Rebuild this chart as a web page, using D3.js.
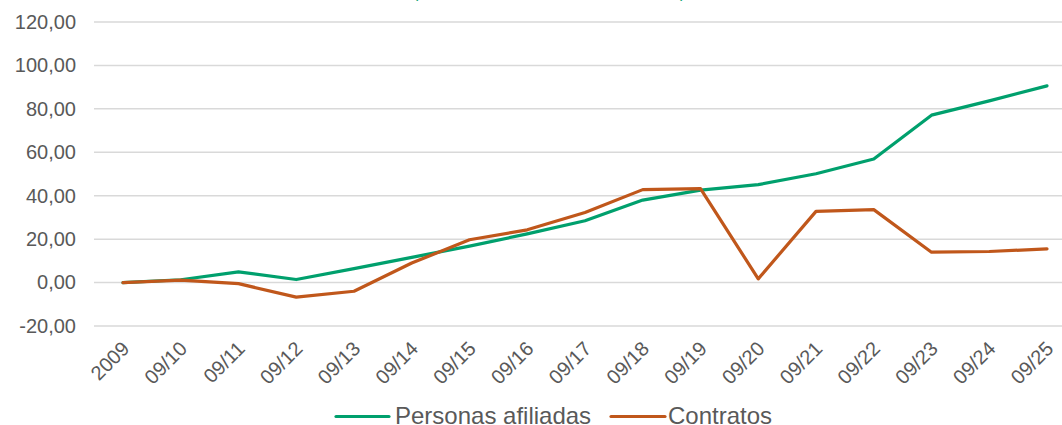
<!DOCTYPE html>
<html>
<head>
<meta charset="utf-8">
<script src="https://cdn.jsdelivr.net/npm/d3@7"></script>
<style>
  html, body { margin: 0; padding: 0; background: #fff; }
  svg { display: block; font-family: "Liberation Sans", Arial, sans-serif; }
</style>
</head>
<body>
<svg id="chart" width="1062" height="425"></svg>
<script>
// Categories along the x axis
const categories = ["2009", "09/10", "09/11", "09/12", "09/13", "09/14", "09/15", "09/16",
  "09/17", "09/18", "09/19", "09/20", "09/21", "09/22", "09/23", "09/24", "09/25"];

// Cumulative change (%) for each series
const afiliadas = [0, 1.3, 4.9, 1.4, 6.4, 11.6, 16.8, 22.4, 28.5, 38.0, 42.6, 45.1, 50.1, 56.9, 77.1, 83.7, 90.6];
const contratos = [0, 1.1, -0.5, -6.7, -4.0, 9.0, 19.7, 24.3, 32.3, 42.8, 43.3, 1.7, 32.8, 33.6, 14.0, 14.3, 15.5];

const yTicks = [-20, 0, 20, 40, 60, 80, 100, 120];

const seriesNames = ["Personas afiliadas", "Contratos"];
const seriesColors = ["#00A06D", "#C0571B"];

const svg = d3.select("#chart");
// Spanish number format: comma decimal, plain hyphen for negatives
const fmt = v => (v < 0 ? "-" : "") + d3.format(".2f")(Math.abs(v)).replace(".", ",");

const x = d3.scalePoint().domain(categories).range([123, 1047]);
const y = d3.scaleLinear().domain([-20, 120]).range([326, 22]);

// Horizontal gridlines
svg.append("g")
  .selectAll("line")
  .data(yTicks)
  .join("line")
  .attr("x1", 94).attr("x2", 1076)
  .attr("y1", d => y(d)).attr("y2", d => y(d))
  .attr("stroke", "#D9D9D9")
  .attr("stroke-width", 1.5);

// Y axis labels
const yAxis = svg.append("g")
  .attr("transform", "translate(76,0)")
  .call(d3.axisLeft(y).tickValues(yTicks).tickFormat(fmt).tickSize(0).tickPadding(0));
yAxis.select(".domain").remove();
yAxis.selectAll("text")
  .attr("fill", "#595959")
  .attr("font-size", 20)
  .attr("font-family", "Liberation Sans, Arial, sans-serif");

// X axis labels, rotated
const xAxis = svg.append("g")
  .attr("transform", "translate(0,330)")
  .call(d3.axisBottom(x).tickSize(0).tickPadding(0));
xAxis.select(".domain").remove();
xAxis.selectAll("text")
  .attr("fill", "#595959")
  .attr("font-size", 20)
  .attr("font-family", "Liberation Sans, Arial, sans-serif")
  .attr("text-anchor", "end")
  .attr("dy", null)
  .attr("y", 0)
  .attr("transform", "translate(7,20) rotate(-45)");

// Lines
const line = d3.line()
  .x((d, i) => x(categories[i]))
  .y(d => y(d));

[afiliadas, contratos].forEach((vals, k) => {
  svg.append("path")
    .datum(vals)
    .attr("d", line)
    .attr("fill", "none")
    .attr("stroke", seriesColors[k])
    .attr("stroke-width", 3.2)
    .attr("stroke-linejoin", "round")
    .attr("stroke-linecap", "round");
});

// Title brackets peeking in at the top edge
svg.append("g")
  .attr("fill", "#00A06D")
  .attr("font-size", 16)
  .selectAll("text")
  .data([{ t: "(", x: 413 }, { t: ")", x: 680 }])
  .join("text")
  .attr("x", d => d.x)
  .attr("y", -2.5)
  .text(d => d.t);

// Legend
const legendItems = [
  { name: seriesNames[0], color: seriesColors[0], x1: 336, x2: 389, tx: 395 },
  { name: seriesNames[1], color: seriesColors[1], x1: 611, x2: 665, tx: 668 }
];
const lg = svg.append("g");
legendItems.forEach(d => {
  lg.append("line")
    .attr("x1", d.x1).attr("x2", d.x2)
    .attr("y1", 416.5).attr("y2", 416.5)
    .attr("stroke", d.color)
    .attr("stroke-width", 3.2)
    .attr("stroke-linecap", "round");
  lg.append("text")
    .attr("x", d.tx)
    .attr("y", 424)
    .attr("fill", "#595959")
    .attr("font-size", 24)
    .text(d.name);
});
</script>
</body>
</html>
